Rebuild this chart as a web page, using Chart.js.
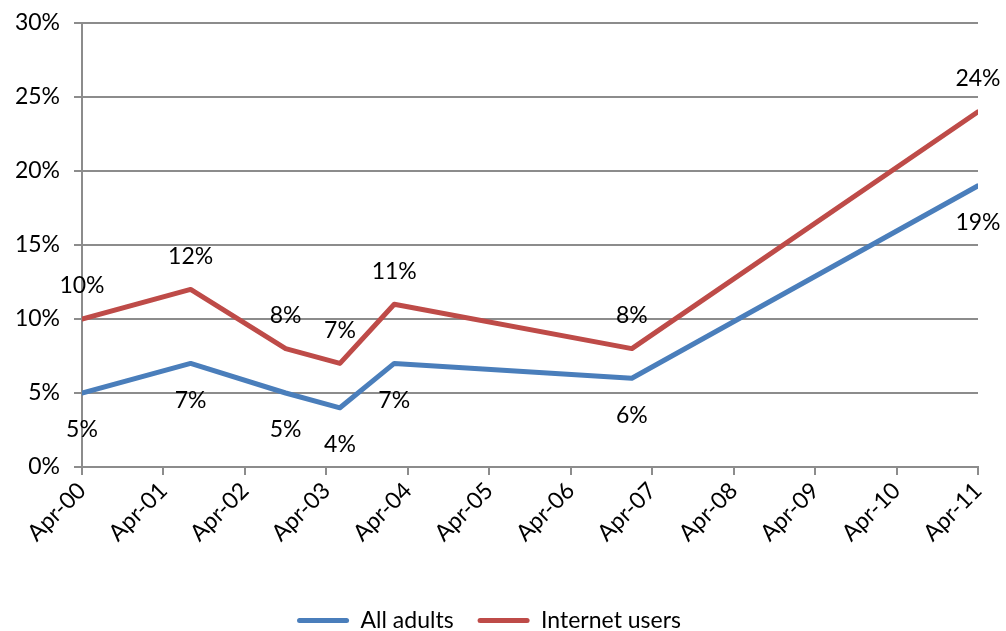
<!DOCTYPE html>
<html>
<head>
<meta charset="utf-8">
<script src="https://cdn.jsdelivr.net/npm/chart.js@4/dist/chart.umd.min.js"></script>
<style>
  html, body { margin: 0; padding: 0; background: #fff; }
  #wrap { width: 1006px; height: 631px; }
</style>
</head>
<body>
<div id="wrap"><canvas id="chart" width="1006" height="631"></canvas></div>
<script>
// ── Data (x = months since Apr-00) ───────────
const tickLabels = ['Apr-00', 'Apr-01', 'Apr-02', 'Apr-03', 'Apr-04', 'Apr-05',
                    'Apr-06', 'Apr-07', 'Apr-08', 'Apr-09', 'Apr-10', 'Apr-11'];
const surveyMonths = [0, 16, 30, 38, 46, 81, 132];
const allAdults = [5, 7, 5, 4, 7, 6, 19];
const internetUsers = [10, 12, 8, 7, 11, 8, 24];

const FONT = "Lato, 'Open Sans', sans-serif";
const FSIZE = 23;
const GRID = '#8c8c8c';

const toPoints = vals => vals.map((v, i) => ({ x: surveyMonths[i], y: v }));

// ── Value labels: red above, blue below ──────
const valueLabels = {
  id: 'valueLabels',
  afterDatasetsDraw(chart) {
    const ctx = chart.ctx;
    ctx.save();
    ctx.font = FSIZE + 'px ' + FONT;
    ctx.fillStyle = '#000';
    ctx.textAlign = 'center';
    ctx.textBaseline = 'middle';
    chart.data.datasets.forEach((ds, di) => {
      const meta = chart.getDatasetMeta(di);
      meta.data.forEach((pt, i) => {
        const dy = di === 1 ? -33 : 37;
        ctx.fillText(ds.data[i].y + '%', pt.x, pt.y + dy);
      });
    });
    ctx.restore();
  }
};

new Chart(document.getElementById('chart'), {
  type: 'line',
  data: {
    datasets: [
      {
        label: 'All adults',
        data: toPoints(allAdults),
        borderColor: '#4a7ebb',
        backgroundColor: '#4a7ebb',
        borderWidth: 5,
        borderJoinStyle: 'round',
        borderCapStyle: 'round',
        pointRadius: 0,
        tension: 0
      },
      {
        label: 'Internet users',
        data: toPoints(internetUsers),
        borderColor: '#be4b48',
        backgroundColor: '#be4b48',
        borderWidth: 5,
        borderJoinStyle: 'round',
        borderCapStyle: 'round',
        pointRadius: 0,
        tension: 0
      }
    ]
  },
  options: {
    responsive: false,
    animation: false,
    layout: { padding: { top: 23, right: 28, left: 0, bottom: -11 } },
    plugins: {
      tooltip: { enabled: false },
      legend: {
        position: 'bottom',
        labels: {
          color: '#000',
          font: { family: FONT, size: FSIZE },
          boxWidth: 52,
          boxHeight: 5,
          padding: 24,
          generateLabels(chart) {
            return chart.data.datasets.map((ds, i) => ({
              text: ds.label,
              fillStyle: ds.borderColor,
              strokeStyle: ds.borderColor,
              lineWidth: 0,
              borderRadius: 2.5,
              datasetIndex: i
            }));
          }
        }
      }
    },
    scales: {
      x: {
        type: 'linear',
        min: 0,
        max: 132,
        afterFit: s => { s.height = 118; },
        afterBuildTicks: s => { s.ticks = tickLabels.map((_, i) => ({ value: i * 12 })); },
        ticks: {
          autoSkip: false,
          maxRotation: 45,
          minRotation: 45,
          color: '#000',
          font: { family: FONT, size: FSIZE },
          padding: 2,
          callback: v => tickLabels[v / 12]
        },
        grid: { drawOnChartArea: false, drawTicks: true, tickLength: 8, color: GRID, lineWidth: 2 },
        border: { display: true, color: GRID, width: 2 }
      },
      y: {
        min: 0,
        max: 30,
        afterFit: s => { s.width = 82; s.paddingTop = 0; },
        ticks: {
          stepSize: 5,
          color: '#000',
          font: { family: FONT, size: FSIZE },
          padding: 14,
          callback: v => v + '%'
        },
        grid: { color: GRID, lineWidth: 2, tickLength: 8 },
        border: { display: true, color: GRID, width: 2 }
      }
    }
  },
  plugins: [valueLabels]
});
</script>
</body>
</html>
